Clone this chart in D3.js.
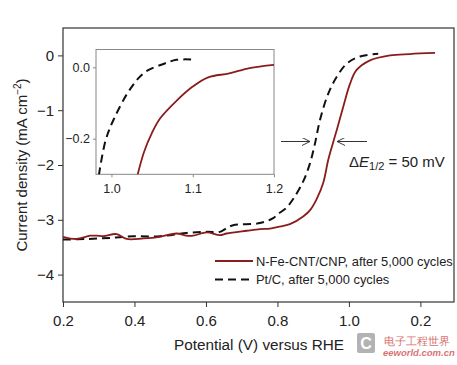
<!DOCTYPE html>
<html><head><meta charset="utf-8">
<script src="https://cdn.jsdelivr.net/npm/d3@7"></script>
<style>body{margin:0;background:#fff}svg{display:block}text{font-family:"Liberation Sans",Arial,Helvetica,sans-serif}</style>
</head><body><svg id="c" width="457" height="365"></svg>
<script>
// Main chart data
const feX = [0.20,0.238,0.276,0.294,0.313,0.350,0.378,0.425,0.471,0.518,0.545,0.564,0.602,0.639,0.658,0.714,0.751,0.779,0.802,0.835,0.872,0.892,0.910,0.928,0.942,0.954,0.966,0.984,1.003,1.021,1.059,1.115,1.170,1.241];
const feY = [-3.31,-3.35,-3.29,-3.29,-3.30,-3.26,-3.35,-3.34,-3.31,-3.25,-3.29,-3.29,-3.23,-3.28,-3.25,-3.20,-3.17,-3.16,-3.13,-3.08,-2.94,-2.82,-2.62,-2.33,-1.91,-1.63,-1.36,-0.94,-0.52,-0.27,-0.09,0.00,0.025,0.045];
const ptX = [0.20,0.266,0.331,0.397,0.471,0.546,0.602,0.639,0.658,0.676,0.751,0.788,0.800,0.822,0.844,0.872,0.891,0.905,0.919,0.942,0.966,0.994,1.031,1.082];
const ptY = [-3.36,-3.35,-3.33,-3.30,-3.30,-3.24,-3.22,-3.22,-3.15,-3.10,-3.06,-2.97,-2.90,-2.80,-2.62,-2.30,-1.97,-1.61,-1.18,-0.70,-0.39,-0.15,-0.02,0.03];
const xTicks = [0.2,0.4,0.6,0.8,1.0,1.2];
const xTickLabels = ["0.2","0.4","0.6","0.8","1.0","0.2"];
const yTicks = [0,-1,-2,-3,-4];
// Inset data
const inFeX = [1.032,1.040,1.050,1.060,1.080,1.100,1.119,1.145,1.170,1.200];
const inFeY = [-0.303,-0.238,-0.183,-0.143,-0.094,-0.054,-0.028,-0.017,-0.002,0.007];
const inPtX = [0.9845,0.9927,1.003,1.023,1.041,1.064,1.080,1.098];
const inPtY = [-0.303,-0.206,-0.145,-0.061,-0.014,0.0095,0.021,0.022];
const inXTicks = [1.0,1.1,1.2];
const inYTicks = [0.0,-0.2];
const legendLabels = ["N-Fe-CNT/CNP, after 5,000 cycles","Pt/C, after 5,000 cycles"];

const RED = "#8a1c1c";
const svg = d3.select("#c");
const x = d3.scaleLinear().domain([0.2,1.294]).range([63,454]);
const y = d3.scaleLinear().domain([-4.5,0.5]).range([302,28]);

// frame
svg.append("rect").attr("x",63).attr("y",28).attr("width",391).attr("height",274)
  .attr("fill","none").attr("stroke","#333").attr("stroke-width",1.2);

const gx = svg.append("g").attr("transform","translate(0,302)")
  .call(d3.axisBottom(x).tickValues(xTicks).tickFormat((d,i)=>xTickLabels[i]).tickSize(5).tickSizeOuter(0));
gx.select(".domain").remove();
gx.selectAll("line").attr("stroke","#333");
gx.selectAll("text").attr("font-size",15).attr("fill","#222").attr("dy","1.05em");

const gy = svg.append("g").attr("transform","translate(63,0)")
  .call(d3.axisLeft(y).tickValues(yTicks).tickFormat(d=>d===0?"0":"\u2212"+Math.abs(d)).tickSize(5).tickSizeOuter(0));
gy.select(".domain").remove();
gy.selectAll("line").attr("stroke","#333");
gy.selectAll("text").attr("font-size",15).attr("fill","#222").attr("x",-9);

// axis titles
svg.append("text").attr("x",259).attr("y",350).attr("text-anchor","middle").attr("font-size",15.3).attr("fill","#222")
  .text("Potential (V) versus RHE");
const yt = svg.append("text").attr("transform","translate(27,165) rotate(-90)").attr("text-anchor","middle")
  .attr("font-size",15).attr("fill","#222");
yt.append("tspan").text("Current density (mA cm");
yt.append("tspan").attr("font-size",10).attr("dy",-6).text("\u22122");
yt.append("tspan").attr("dy",6).text(")");

// curves
const line = d3.line().x(d=>x(d[0])).y(d=>y(d[1])).curve(d3.curveCatmullRom.alpha(0.5));
svg.append("path").datum(ptX.map((v,i)=>[v,ptY[i]])).attr("d",line)
  .attr("fill","none").attr("stroke","#111").attr("stroke-width",2).attr("stroke-dasharray","8,5");
svg.append("path").datum(feX.map((v,i)=>[v,feY[i]])).attr("d",line)
  .attr("fill","none").attr("stroke",RED).attr("stroke-width",1.8);

// arrows
const defs = svg.append("defs");
defs.append("marker").attr("id","ah").attr("viewBox","0 0 10 10").attr("refX",10).attr("refY",5)
  .attr("markerWidth",10).attr("markerHeight",8).attr("orient","auto").attr("markerUnits","userSpaceOnUse")
  .append("path").attr("d","M0,0 L10,5 L0,10").attr("fill","none").attr("stroke","#333").attr("stroke-width",1.2);
svg.append("line").attr("x1",281).attr("y1",141.5).attr("x2",310).attr("y2",141.5)
  .attr("stroke","#333").attr("stroke-width",1).attr("marker-end","url(#ah)");
svg.append("line").attr("x1",367).attr("y1",141.5).attr("x2",337).attr("y2",141.5)
  .attr("stroke","#333").attr("stroke-width",1).attr("marker-end","url(#ah)");
const de = svg.append("text").attr("x",349).attr("y",167).attr("font-size",15).attr("fill","#222");
de.append("tspan").text("\u0394");
de.append("tspan").attr("font-style","italic").text("E");
de.append("tspan").attr("font-size",11).attr("dy",3).text("1/2");
de.append("tspan").attr("dy",-3).text(" = 50 mV");

// legend
svg.append("line").attr("x1",215).attr("x2",253).attr("y1",261).attr("y2",261).attr("stroke",RED).attr("stroke-width",1.8);
svg.append("line").attr("x1",215).attr("x2",253).attr("y1",279.5).attr("y2",279.5).attr("stroke","#111").attr("stroke-width",2).attr("stroke-dasharray","8,5");
svg.append("text").attr("x",256).attr("y",265.5).attr("font-size",12.9).attr("fill","#222").text(legendLabels[0]);
svg.append("text").attr("x",256).attr("y",284).attr("font-size",12.9).attr("fill","#222").text(legendLabels[1]);

// inset
const ix = d3.scaleLinear().domain([0.981,1.2]).range([96,274]);
const iy = d3.scaleLinear().domain([0.05,-0.30]).range([49.5,174.3]);
svg.append("rect").attr("x",96).attr("y",49.5).attr("width",178).attr("height",124.8)
  .attr("fill","#fff").attr("stroke","#888").attr("stroke-width",1);
defs.append("clipPath").attr("id","ic").append("rect").attr("x",96).attr("y",49.5).attr("width",178).attr("height",124.8);
const gix = svg.append("g").attr("transform","translate(0,174.3)")
  .call(d3.axisBottom(ix).tickValues(inXTicks).tickFormat(d3.format(".1f")).tickSize(3).tickSizeOuter(0));
gix.select(".domain").remove();
gix.selectAll("line").attr("stroke","#888");
gix.selectAll("text").attr("font-size",12.5).attr("fill","#222").attr("dy","1.05em");
const giy = svg.append("g").attr("transform","translate(96,0)")
  .call(d3.axisLeft(iy).tickValues(inYTicks).tickFormat(d=>d===0?"0.0":"\u22120.2").tickSize(3).tickSizeOuter(0));
giy.select(".domain").remove();
giy.selectAll("line").attr("stroke","#888");
giy.selectAll("text").attr("font-size",12.5).attr("fill","#222").attr("x",-6);
const iline = d3.line().x(d=>ix(d[0])).y(d=>iy(d[1])).curve(d3.curveCatmullRom.alpha(0.5));
const ig = svg.append("g").attr("clip-path","url(#ic)");
ig.append("path").datum(inPtX.map((v,i)=>[v,inPtY[i]])).attr("d",iline)
  .attr("fill","none").attr("stroke","#111").attr("stroke-width",2).attr("stroke-dasharray","8,5");
ig.append("path").datum(inFeX.map((v,i)=>[v,inFeY[i]])).attr("d",iline)
  .attr("fill","none").attr("stroke",RED).attr("stroke-width",1.8);

// watermark
const wm = svg.append("g").attr("opacity",0.75);
wm.append("rect").attr("x",357).attr("y",333).attr("width",18).attr("height",20).attr("rx",2).attr("fill","#9a9a9a");
wm.append("text").attr("x",366).attr("y",349).attr("text-anchor","middle").attr("font-size",16).attr("font-weight","bold").attr("fill","#fff").text("C");
wm.append("text").attr("x",384).attr("y",345).attr("font-size",11).attr("font-family","Noto Sans CJK SC").attr("fill","#c44").text("电子工程世界");
wm.append("text").attr("x",383).attr("y",356).attr("font-size",9.5).attr("font-style","italic").attr("font-weight","bold").attr("fill","#c44").text("eeworld.com.cn");
</script></body></html>
